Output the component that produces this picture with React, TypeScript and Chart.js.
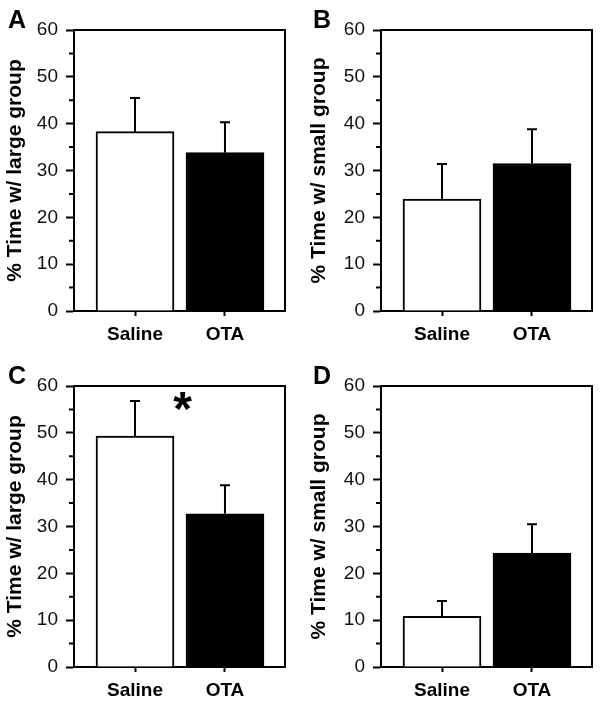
import React, { useEffect, useRef } from "react";
import { Chart, registerables } from "chart.js";

Chart.register(...registerables);

const FONT = "'Liberation Sans', Arial, Helvetica, sans-serif";

// ---- data ----
const categories = ["Saline", "OTA"];
const yTickValues = [0, 10, 20, 30, 40, 50, 60];
const yMinorTickValues = [5, 15, 25, 35, 45, 55];

const titleLarge = "% Time w/ large group";
const titleSmall = "% Time w/ small group";

const meanA = [38.3, 33.8];
const semA = [7.2, 6.5];
const meanB = [23.9, 31.5];
const semB = [7.5, 7.3];
const meanC = [49.3, 32.7];
const semC = [7.5, 6.1];
const meanD = [10.8, 24.3];
const semD = [3.3, 6.2];

const sigC = [{ position: 0.53, value: 56.9, text: "*" }];

const barColors = ["#ffffff", "#000000"];

type PanelProps = {
  x: number; y: number; w: number; h: number;
  plotL: number; plotT: number; plotR: number; plotB: number;
  letter: string; letterX: number; titlePad: number;
  title: string; means: number[]; sems: number[];
  sig: { position: number; value: number; text: string }[];
};

function Panel(p: PanelProps) {
  const ref = useRef<HTMLCanvasElement>(null);
  useEffect(() => {
    const { w, h, plotL, plotT, plotR, plotB, letter, letterX, titlePad, title, means, sems, sig } = p;

    const boxPlugin = {
      id: "box",
      afterDraw(chart: any) {
        const { ctx, chartArea: a } = chart;
        ctx.save();
        ctx.strokeStyle = "#000";
        ctx.lineWidth = 2;
        ctx.beginPath();
        ctx.moveTo(a.left, a.top);
        ctx.lineTo(a.right, a.top);
        ctx.lineTo(a.right, a.bottom);
        ctx.stroke();
        // minor ticks
        const ys = chart.scales.y;
        ctx.beginPath();
        yMinorTickValues.forEach((v) => {
          const py = ys.getPixelForValue(v);
          ctx.moveTo(a.left - 5, py);
          ctx.lineTo(a.left, py);
        });
        ctx.stroke();
        // panel letter
        ctx.fillStyle = "#000";
        ctx.font = `bold 25px ${FONT}`;
        ctx.textAlign = "left";
        ctx.textBaseline = "alphabetic";
        ctx.fillText(letter, letterX, 28);
        // significance marks
        sig.forEach((s) => {
          ctx.font = `bold 48px ${FONT}`;
          const m = ctx.measureText(s.text);
          const cx = chart.scales.x.getPixelForValue(s.position);
          const cy = ys.getPixelForValue(s.value);
          const gw = m.actualBoundingBoxRight + m.actualBoundingBoxLeft;
          const gh = m.actualBoundingBoxAscent + m.actualBoundingBoxDescent;
          ctx.fillText(s.text, cx - gw / 2 + m.actualBoundingBoxLeft, cy - gh / 2 + m.actualBoundingBoxAscent);
        });
        ctx.restore();
      },
    };

    const errorBars = {
      id: "errorBars",
      afterDatasetsDraw(chart: any) {
        const { ctx } = chart;
        const ys = chart.scales.y;
        const meta = chart.getDatasetMeta(0);
        ctx.save();
        ctx.strokeStyle = "#000";
        ctx.lineWidth = 2;
        meta.data.forEach((el: any, i: number) => {
          const top = ys.getPixelForValue(means[i] + sems[i]);
          ctx.beginPath();
          ctx.moveTo(el.x, el.y);
          ctx.lineTo(el.x, top);
          ctx.moveTo(el.x - 5, top);
          ctx.lineTo(el.x + 5, top);
          ctx.stroke();
        });
        ctx.restore();
      },
    };

    const chart = new Chart(ref.current as HTMLCanvasElement, {
      type: "bar",
      data: {
        datasets: [
          {
            data: means.map((m, i) => ({ x: i, y: m })),
            backgroundColor: barColors,
            borderColor: "#000",
            borderWidth: 2,
            borderSkipped: "start",
            barThickness: 78,
          } as any,
        ],
      },
      options: {
        animation: false,
        responsive: false,
        devicePixelRatio: 1,
        layout: { padding: { left: 0, top: plotT, right: w - plotR, bottom: 0 } },
        plugins: { legend: { display: false }, tooltip: { enabled: false } },
        scales: {
          x: {
            type: "linear",
            min: -0.678,
            max: 1.667,
            offset: false,
            afterBuildTicks: (s: any) => {
              s.ticks = categories.map((_, i) => ({ value: i }));
            },
            afterFit: (s: any) => {
              s.height = h - plotB;
            },
            grid: {
              display: true,
              offset: false,
              drawOnChartArea: false,
              drawTicks: true,
              tickLength: 5,
              tickColor: "#000",
              tickWidth: 2,
            },
            border: { display: true, color: "#000", width: 2 },
            ticks: {
              callback: (v: any) => categories[v] ?? "",
              autoSkip: false,
              maxRotation: 0,
              padding: 7,
              color: "#000",
              font: { family: FONT, size: 19, weight: "bold" },
            },
          },
          y: {
            min: 0,
            max: 60,
            afterBuildTicks: (s: any) => {
              s.ticks = yTickValues.map((v) => ({ value: v }));
            },
            afterFit: (s: any) => {
              s.width = plotL;
            },
            grid: {
              display: true,
              drawOnChartArea: false,
              drawTicks: true,
              tickLength: 8,
              tickColor: "#000",
              tickWidth: 2,
            },
            border: { display: true, color: "#000", width: 2 },
            ticks: {
              padding: 8,
              color: "#111",
              font: { family: FONT, size: 19 },
            },
            title: {
              display: true,
              text: title,
              color: "#000",
              font: { family: FONT, size: 21, weight: "bold" },
              padding: { top: titlePad, bottom: 0 },
            },
          },
        },
      } as any,
      plugins: [errorBars, boxPlugin],
    });
    return () => chart.destroy();
  }, []);
  return (
    <canvas
      ref={ref}
      width={p.w}
      height={p.h}
      style={{ position: "absolute", left: p.x, top: p.y, width: p.w, height: p.h }}
    />
  );
}

export default function App() {
  return (
    <div style={{ position: "absolute", left: 0, top: 0, width: 601, height: 706, background: "#fff" }}>
      <Panel x={0} y={0} w={300} h={353} plotL={74} plotT={30} plotR={285} plotB={311}
        letter="A" letterX={8} titlePad={3} title={titleLarge} means={meanA} sems={semA} sig={[]} />
      <Panel x={300} y={0} w={301} h={353} plotL={81} plotT={30} plotR={292} plotB={311}
        letter="B" letterX={13} titlePad={7} title={titleSmall} means={meanB} sems={semB} sig={[]} />
      <Panel x={0} y={356} w={300} h={350} plotL={74} plotT={30} plotR={285} plotB={311}
        letter="C" letterX={8} titlePad={3} title={titleLarge} means={meanC} sems={semC} sig={sigC} />
      <Panel x={300} y={356} w={301} h={350} plotL={81} plotT={30} plotR={292} plotB={311}
        letter="D" letterX={13} titlePad={7} title={titleSmall} means={meanD} sems={semD} sig={[]} />
    </div>
  );
}
